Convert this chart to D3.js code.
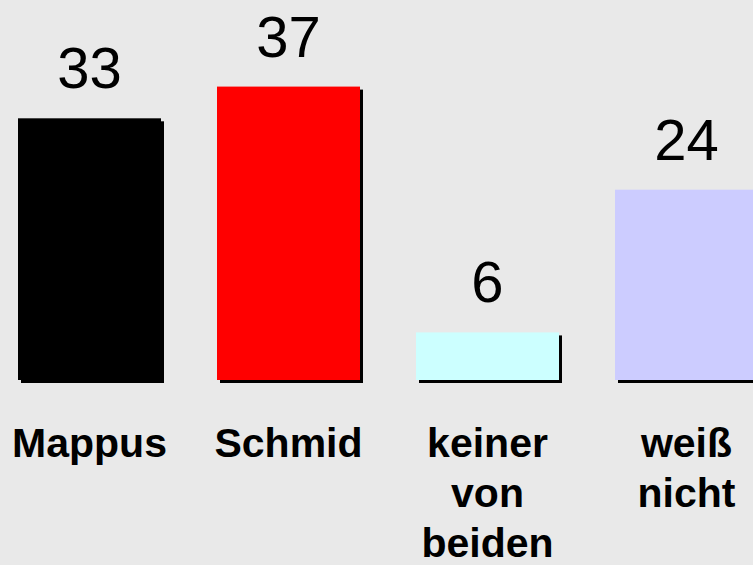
<!DOCTYPE html>
<html><head><meta charset="utf-8">
<script src="https://cdn.jsdelivr.net/npm/d3@7"></script>
<style>
html,body{margin:0;padding:0;background:#e9e9e9;}
svg{display:block;}
text{font-family:"Liberation Sans",Arial,Helvetica,sans-serif;}
</style></head>
<body>
<script>
const categories = ["Mappus", "Schmid", "keiner von beiden", "weiß nicht"];
const labelLines = [["Mappus"], ["Schmid"], ["keiner", "von", "beiden"], ["weiß", "nicht"]];
const values = [33, 37, 6, 24];
const colors = ["#000000", "#ff0000", "#ccffff", "#ccccff"];

const W = 753, H = 565;
const svg = d3.select("body").append("svg").attr("width", W).attr("height", H);
svg.append("rect").attr("width", W).attr("height", H).attr("fill", "#e9e9e9");

const x = d3.scaleBand().domain(categories).range([-10, 786]).paddingInner(0.2814).paddingOuter(0.1407);
const y = d3.scaleLinear().domain([0, 40]).range([380, 62.8]);

const g = svg.append("g");
const data = categories.map((c, i) => ({c, v: values[i], col: colors[i], lines: labelLines[i]}));

// shadows
g.selectAll("rect.sh").data(data).enter().append("rect")
  .attr("x", d => x(d.c) + 3).attr("y", d => y(d.v) + 3)
  .attr("width", x.bandwidth()).attr("height", d => y(0) - y(d.v))
  .attr("fill", "#000");
// bars
g.selectAll("rect.bar").data(data).enter().append("rect")
  .attr("x", d => x(d.c)).attr("y", d => y(d.v))
  .attr("width", x.bandwidth()).attr("height", d => y(0) - y(d.v))
  .attr("fill", d => d.col);

// value labels
g.selectAll("text.val").data(data).enter().append("text")
  .attr("x", d => x(d.c) + x.bandwidth() / 2).attr("y", d => y(d.v) - 30)
  .attr("text-anchor", "middle").attr("font-size", 58).attr("fill", "#000")
  .text(d => d.v);

// category labels
const cl = g.selectAll("text.cat").data(data).enter().append("text")
  .attr("text-anchor", "middle").attr("font-size", 41).attr("font-weight", "bold").attr("fill", "#000");
cl.each(function(d) {
  const t = d3.select(this);
  d.lines.forEach((ln, j) => {
    t.append("tspan").attr("x", x(d.c) + x.bandwidth() / 2).attr("y", 456.5 + j * 50).text(ln);
  });
});
</script>
</body></html>
